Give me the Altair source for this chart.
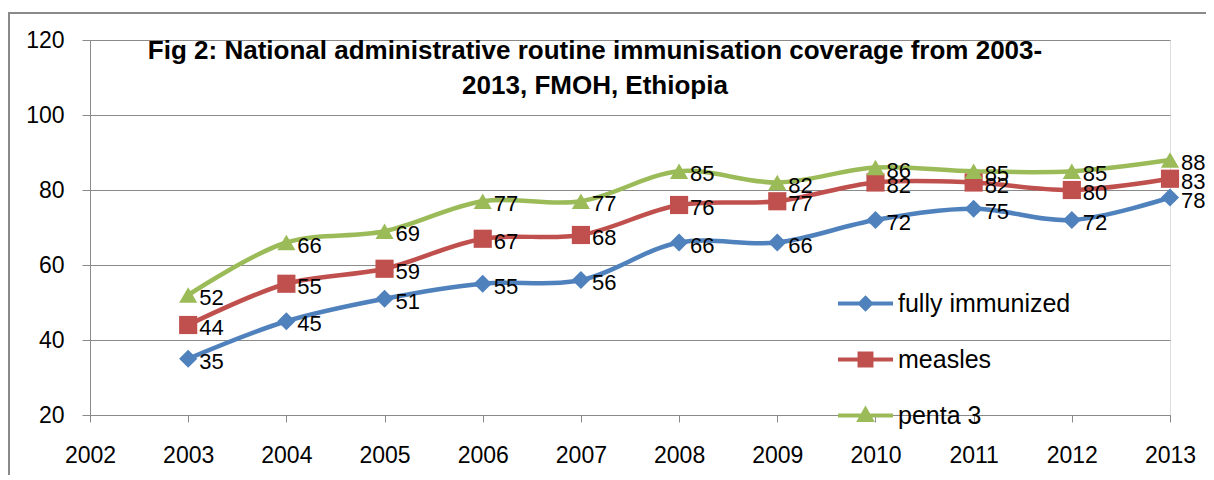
import altair as alt
import pandas as pd

years = list(range(2003, 2014))
fully_immunized = [35, 45, 51, 55, 56, 66, 66, 72, 75, 72, 78]
measles = [44, 55, 59, 67, 68, 76, 77, 82, 82, 80, 83]
penta3 = [52, 66, 69, 77, 77, 85, 82, 86, 85, 85, 88]
series_names = ["fully immunized", "measles", "penta 3"]
series_colors = ["#4F81BD", "#C0504D", "#9BBB59"]
series_shapes = ["diamond", "square", "triangle-up"]
x_ticks = list(range(2002, 2014))
y_ticks = [20, 40, 60, 80, 100, 120]
title_lines = ["Fig 2: National administrative routine immunisation coverage from 2003-",
               "2013, FMOH, Ethiopia"]

rows = []
for name, vals in zip(series_names, [fully_immunized, measles, penta3]):
    for yr, v in zip(years, vals):
        rows.append({"year": yr, "value": v, "series": name})
df = pd.DataFrame(rows)

FONT = "Liberation Sans"
GRID = "#8a8a8a"
FS = 23

x_enc = alt.X("year:Q", scale=alt.Scale(domain=[2002, 2013], nice=False, zero=False),
              axis=alt.Axis(values=x_ticks, format="d", title=None, grid=False,
                            labelFontSize=FS, labelFont=FONT, labelColor="black",
                            labelPadding=22, tickSize=7, tickColor=GRID,
                            domainColor=GRID, labelFlush=False))
y_enc = alt.Y("value:Q", scale=alt.Scale(domain=[20, 120], nice=False, zero=False),
              axis=alt.Axis(values=y_ticks, title=None, grid=True, gridColor=GRID,
                            labelFontSize=FS, labelFont=FONT, labelColor="black",
                            labelPadding=18, tickSize=8, tickColor=GRID,
                            domainColor=GRID))

color_scale = alt.Scale(domain=series_names, range=series_colors)

# legend symbols: a filled bar (the line) plus the marker, in -1..1 units
BAR = "M-1,-0.075L1,-0.075L1,0.075L-1,0.075Z"
legend_paths = [
    BAR + "M0,-0.3L0.3,0L0,0.3L-0.3,0Z",
    BAR + "M-0.29,-0.29L0.29,-0.29L0.29,0.29L-0.29,0.29Z",
    BAR + "M0,-0.36L0.34,0.24L-0.34,0.24Z",
]

legend = alt.Legend(
    title=None, orient="none", legendX=748, legendY=236, padding=0,
    labelFontSize=25, labelFont=FONT, labelColor="black", labelOffset=5,
    labelLimit=400,
    symbolSize=3025, symbolOpacity=1, rowPadding=15, symbolStrokeWidth=0,
)

base = alt.Chart(df)

legend_layer = base.mark_point(filled=True, opacity=0).encode(
    x=x_enc, y=y_enc,
    color=alt.Color("series:N", scale=color_scale, legend=legend),
    shape=alt.Shape("series:N", scale=alt.Scale(domain=series_names, range=legend_paths),
                    legend=legend),
)

lines = base.mark_line(strokeWidth=4.5, interpolate="catmull-rom").encode(
    x=x_enc, y=y_enc,
    color=alt.Color("series:N", scale=color_scale, legend=None),
    order=alt.Order("year:Q"),
    detail="series:N",
)

point_layers = []
for name, shp in zip(series_names, series_shapes):
    point_layers.append(
        base.transform_filter(alt.datum.series == name)
        .mark_point(filled=True, opacity=1, size=330, shape=shp)
        .encode(x=x_enc, y=y_enc,
                color=alt.Color("series:N", scale=color_scale, legend=None))
    )

labels = base.mark_text(align="left", baseline="middle", dx=11, dy=3,
                        fontSize=22, font=FONT, color="black").encode(
    x=x_enc, y=y_enc, text="value:Q",
)

frame = alt.Chart(pd.DataFrame({"a": [0]})).mark_rect(
    fill="transparent", stroke="#8a8a8a", strokeWidth=2, clip=False
).encode(x=alt.value(-81), x2=alt.value(1300), y=alt.value(-27), y2=alt.value(600))

chart = alt.layer(frame, legend_layer, lines, *point_layers, labels).properties(
    width=1080, height=375,
    title=alt.TitleParams(text=title_lines, fontSize=26, font=FONT, fontWeight="bold",
                          color="black", anchor="middle", frame="group", dx=-35,
                          baseline="top", offset=0, dy=87, lineHeight=35),
    padding={"left": 82, "top": 32, "right": 36, "bottom": 60},
    autosize=alt.AutoSizeParams(type="none"),
).configure_view(stroke=None).configure(background="white")

chart.save("out.html", embed_options={"renderer": "svg", "actions": False})
